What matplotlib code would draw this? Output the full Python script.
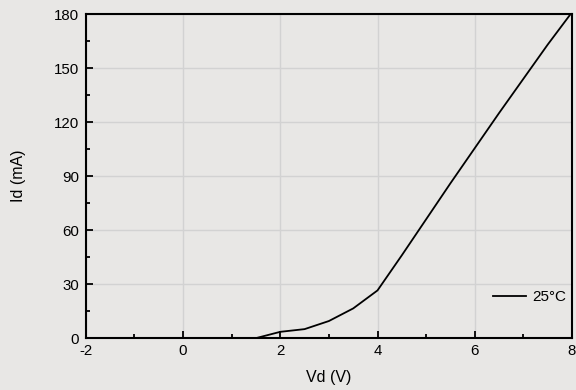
import matplotlib
matplotlib.use("Agg")
import matplotlib.pyplot as plt
from matplotlib.ticker import MultipleLocator

# I-V curve
vd = [0.5, 1.0, 1.5, 2.0, 2.5, 3.0, 3.5, 4.0, 4.5, 5.0, 5.5, 6.0, 6.5, 7.0, 7.5, 8.0]
id_ma = [0.0, 0.0, 0.0, 3.5, 5.0, 9.5, 16.5, 26.5, 46.0, 66.0, 86.0, 105.5, 125.0, 144.0, 163.0, 181.0]

plt.rcParams["font.family"] = ["Liberation Sans", "DejaVu Sans"]
plt.rcParams["axes.unicode_minus"] = False
bg = "#e8e7e5"

fig, ax = plt.subplots(figsize=(5.76, 3.9), dpi=100)
fig.patch.set_facecolor(bg)
ax.set_facecolor(bg)
fig.subplots_adjust(left=0.149, right=0.993, top=0.964, bottom=0.133)

ax.plot(vd, id_ma, color="black", lw=1.3, label="25°C")

ax.set_xlim(-2, 8)
ax.set_ylim(0, 180)
ax.xaxis.set_major_locator(MultipleLocator(2))
ax.xaxis.set_minor_locator(MultipleLocator(1))
ax.yaxis.set_major_locator(MultipleLocator(30))
ax.yaxis.set_minor_locator(MultipleLocator(15))
ax.tick_params(which="both", direction="in", labelsize=10.8, width=1.3, color="black")
ax.tick_params(which="major", length=5)
ax.tick_params(which="minor", length=3)
ax.tick_params(axis="y", pad=5)
ax.tick_params(axis="x", pad=4)
ax.grid(which="major", color="#d2d2d2", lw=1.0)
ax.set_axisbelow(True)
for s in ax.spines.values():
    s.set_linewidth(1.5)

ax.set_xlabel("Vd (V)", fontsize=11.5, labelpad=9)
ax.set_ylabel("Id (mA)", fontsize=11.5, labelpad=20)
ax.legend(loc="lower right", bbox_to_anchor=(1.017, 0.063), frameon=False,
          fontsize=11, handlelength=2.2, handletextpad=0.4)

fig.savefig("out.png", dpi=100, facecolor=bg)
